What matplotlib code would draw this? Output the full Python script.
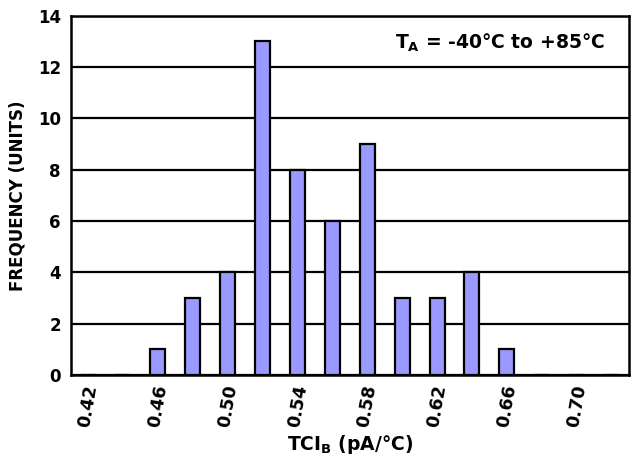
import numpy as np
import matplotlib.pyplot as plt

# Histogram bins (pA/°C) and counts
bins = ['0.42', '0.44', '0.46', '0.48', '0.50', '0.52', '0.54', '0.56',
        '0.58', '0.60', '0.62', '0.64', '0.66', '0.68', '0.70', '0.72']
counts = [0, 0, 1, 3, 4, 13, 8, 6, 9, 3, 3, 4, 1, 0, 0, 0]
shown_labels = ['0.42', '0.46', '0.50', '0.54', '0.58', '0.62', '0.66', '0.70']
y_ticks = [0, 2, 4, 6, 8, 10, 12, 14]

plt.rcParams['font.family'] = 'DejaVu Sans'
plt.rcParams['font.weight'] = 'bold'
plt.rcParams['mathtext.fontset'] = 'dejavusans'

fig = plt.figure(figsize=(6.36, 4.58), dpi=100)
ax = fig.add_axes([0.111, 0.181, 0.878, 0.785])

x = np.arange(len(bins))
ax.bar(x, counts, width=0.43, color='#9999ff', edgecolor='black',
       linewidth=1.6, zorder=3)

ax.set_xlim(-0.5, len(bins) - 0.5)
ax.set_ylim(0, 14)
ax.set_yticks(y_ticks)
ax.set_yticklabels([str(v) for v in y_ticks], fontsize=12, fontweight='bold')

tick_pos = [bins.index(b) for b in shown_labels]
ax.set_xticks(tick_pos)
ax.set_xticklabels(shown_labels, rotation=80, fontsize=12.5,
                   fontweight='bold', ha='center', va='top')
ax.tick_params(axis='y', length=0, pad=7)
ax.tick_params(axis='x', length=0, pad=6)

ax.grid(axis='y', color='black', linewidth=1.6, zorder=0)
for s in ax.spines.values():
    s.set_linewidth(1.8)
    s.set_color('black')

ax.set_ylabel('FREQUENCY (UNITS)', fontsize=12, fontweight='bold', labelpad=8)
ax.set_xlabel(r'TCI$_\mathbf{B}$ (pA/°C)', fontsize=13.5, fontweight='bold', labelpad=3)

ax.text(0.957, 0.925, r'T$_\mathbf{A}$ = -40°C to +85°C', transform=ax.transAxes,
        ha='right', va='center', fontsize=13.5, fontweight='bold')

fig.savefig('out.png', dpi=100)
